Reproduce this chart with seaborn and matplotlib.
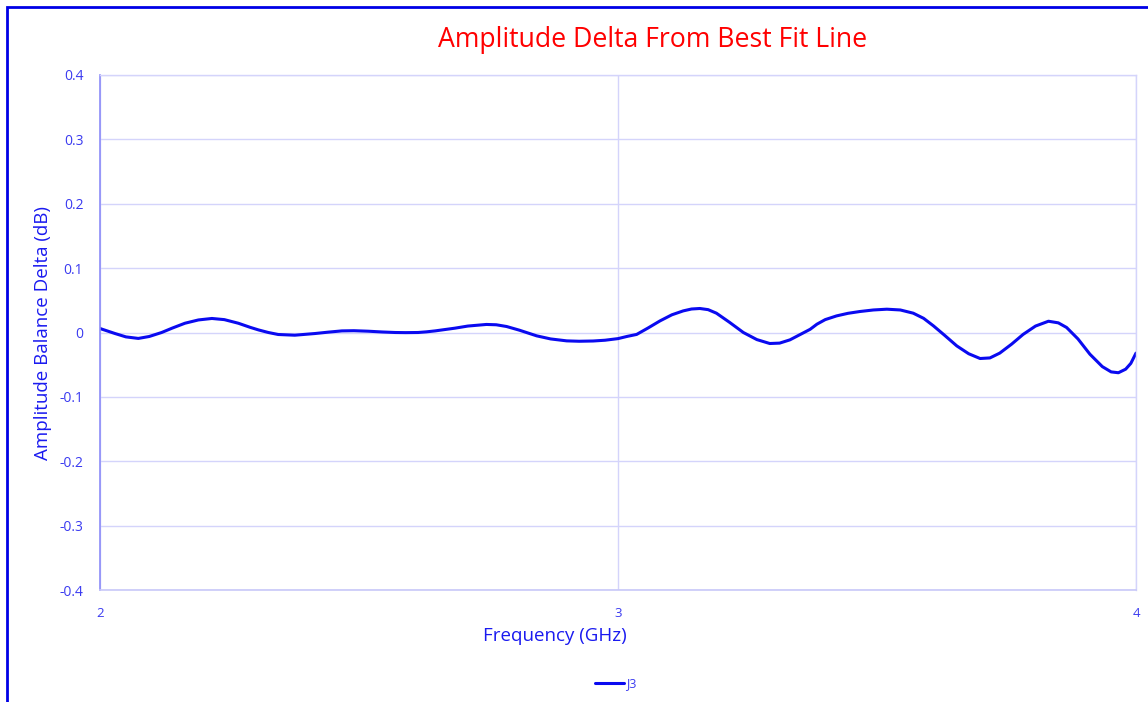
import matplotlib
matplotlib.use("Agg")
import matplotlib.pyplot as plt
import seaborn as sns
import pandas as pd
from matplotlib.patches import Rectangle

# ---- data ----
freq_ghz = [2.000, 2.029, 2.050, 2.074, 2.095, 2.119, 2.140, 2.164, 2.190, 2.216,
            2.240, 2.267, 2.290, 2.306, 2.325, 2.344, 2.376, 2.415, 2.440, 2.467,
            2.490, 2.518, 2.545, 2.570, 2.590, 2.614, 2.630, 2.647, 2.665, 2.685,
            2.710, 2.746, 2.765, 2.785, 2.810, 2.843, 2.870, 2.901, 2.925, 2.952,
            2.975, 3.000, 3.018, 3.036, 3.058, 3.081, 3.104, 3.126, 3.142, 3.158,
            3.174, 3.190, 3.215, 3.242, 3.268, 3.293, 3.312, 3.332, 3.352, 3.371,
            3.384, 3.400, 3.422, 3.444, 3.467, 3.493, 3.519, 3.545, 3.570, 3.590,
            3.609, 3.630, 3.654, 3.677, 3.699, 3.718, 3.737, 3.760, 3.782, 3.806,
            3.831, 3.850, 3.866, 3.888, 3.911, 3.935, 3.952, 3.966, 3.980, 3.990, 4.000]
delta_db = [0.0062, -0.0016, -0.0068, -0.0092, -0.0062, 0.0000, 0.0070, 0.0144, 0.0195, 0.0218,
            0.0200, 0.0144, 0.0080, 0.0040, 0.0000, -0.0031, -0.0042, -0.0016, 0.0005, 0.0025,
            0.0028, 0.0020, 0.0008, 0.0000, -0.0002, 0.0000, 0.0010, 0.0025, 0.0045, 0.0067,
            0.0100, 0.0125, 0.0120, 0.0093, 0.0035, -0.0052, -0.0100, -0.0130, -0.0136, -0.0132,
            -0.0120, -0.0095, -0.0060, -0.0030, 0.0070, 0.0180, 0.0275, 0.0336, 0.0365, 0.0373,
            0.0355, 0.0300, 0.0160, 0.0000, -0.0110, -0.0171, -0.0165, -0.0114, -0.0030, 0.0050,
            0.0129, 0.0200, 0.0258, 0.0298, 0.0326, 0.0350, 0.0362, 0.0350, 0.0300, 0.0220,
            0.0103, -0.0040, -0.0208, -0.0330, -0.0404, -0.0395, -0.0320, -0.0180, -0.0030, 0.0100,
            0.0175, 0.0150, 0.0078, -0.0100, -0.0337, -0.0530, -0.0612, -0.0625, -0.0570, -0.0480, -0.0320]
series_name = "J3"
x_ticks = [2, 3, 4]
y_ticks = [-0.4, -0.3, -0.2, -0.1, 0, 0.1, 0.2, 0.3, 0.4]
y_tick_labels = ["-0.4", "-0.3", "-0.2", "-0.1", "0", "0.1", "0.2", "0.3", "0.4"]

title = "Amplitude Delta From Best Fit Line"
x_label = "Frequency (GHz)"
y_label = "Amplitude Balance Delta (dB)"

sns.set_theme(style="white")
plt.rcParams['font.family'] = ['Open Sans', 'DejaVu Sans']

W, H = 1148, 702
fig = plt.figure(figsize=(W / 100, H / 100), dpi=100)
ax = fig.add_axes([100 / W, 1 - 590 / H, (1136 - 100) / W, (590 - 75) / H])

df = pd.DataFrame({"freq": freq_ghz, "delta": delta_db})
sns.lineplot(data=df, x="freq", y="delta", ax=ax, color="#0a0af0", linewidth=2.2,
             solid_joinstyle="round", solid_capstyle="round", label=series_name, legend=False)

ax.set_xlim(2, 4)
ax.set_ylim(-0.4, 0.4)
ax.set_xticks(x_ticks)
ax.set_xticklabels([str(t) for t in x_ticks])
ax.set_yticks(y_ticks)
ax.set_yticklabels(y_tick_labels)
ax.set_xlabel("")
ax.set_ylabel("")

grid_c = "#d4d4fb"
ax.grid(True, color=grid_c, linewidth=1.0)
ax.set_axisbelow(True)
for s in ["top", "right"]:
    ax.spines[s].set_visible(True)
    ax.spines[s].set_color(grid_c)
    ax.spines[s].set_linewidth(1.0)
ax.spines["bottom"].set_color("#c8c8f8")
ax.spines["bottom"].set_linewidth(1.2)
ax.spines["left"].set_color("#8c8cf8")
ax.spines["left"].set_linewidth(1.2)

ax.tick_params(axis="both", length=0, colors="#3a3af0", labelsize=10)
ax.tick_params(axis="y", pad=12)
ax.tick_params(axis="x", pad=12, labelsize=9.5)

fig.text(653 / W, 1 - 40 / H, title, color="#ff0000", fontsize=19.2,
         ha="center", va="center")
fig.text(555 / W, 1 - 636 / H, x_label, color="#1a1af0", fontsize=13.5,
         ha="center", va="center")
fig.text(43 / W, 1 - 333 / H, y_label, color="#1a1af0", fontsize=13.5,
         ha="center", va="center", rotation=90)

handles, labels = ax.get_legend_handles_labels()
leg = fig.legend(handles, labels, loc="center", bbox_to_anchor=(616 / W, 1 - 684 / H),
                 frameon=False, fontsize=9, handlelength=2.3, handletextpad=0.2,
                 labelcolor="#3a3af0")

# outer chart border (partially visible at left/top in reference)
fig.patches.append(Rectangle((7 / W, -0.05), 1.2, 1 - 7 / H + 0.05, transform=fig.transFigure,
                             fill=False, edgecolor="#0000e6", linewidth=2.0, zorder=10))

fig.savefig("out.png", dpi=100)
